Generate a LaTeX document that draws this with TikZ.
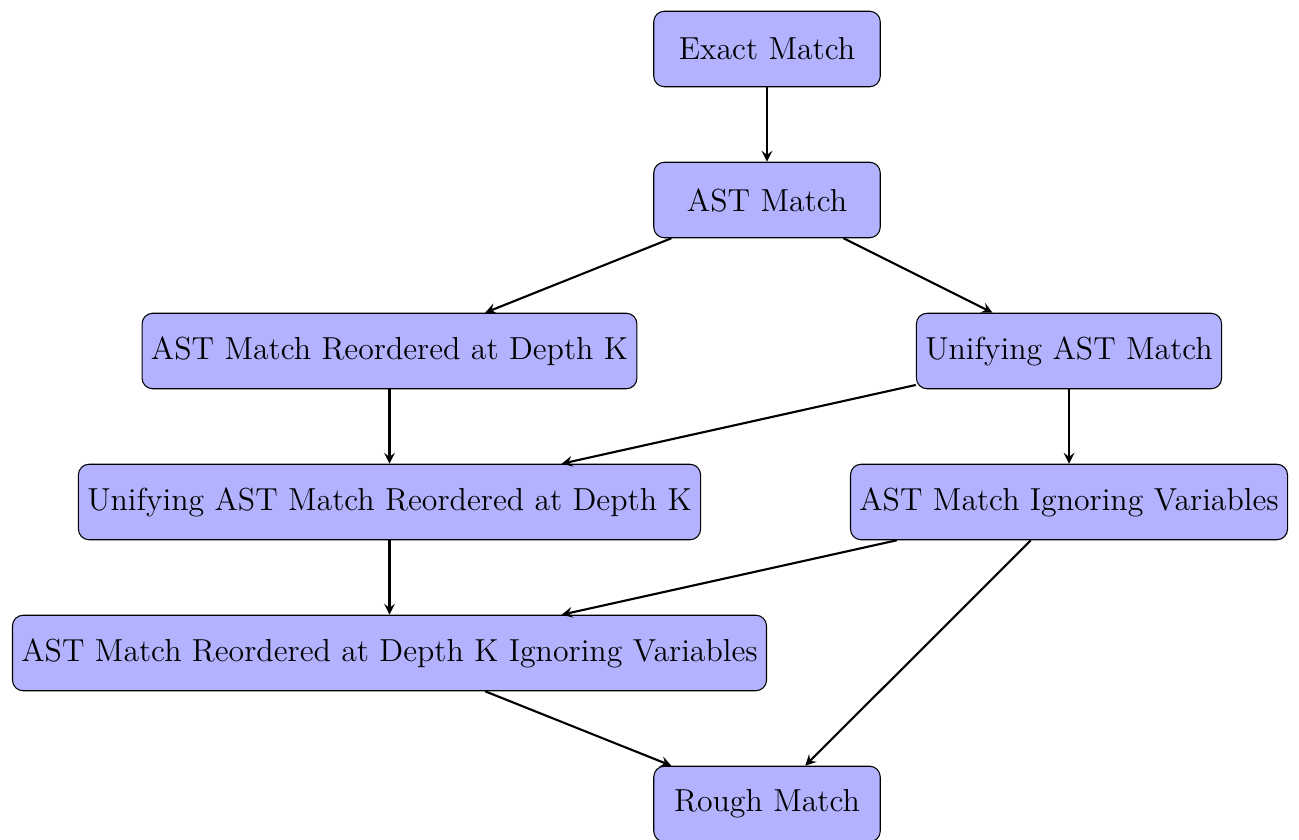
\documentclass[tikz,border=0pt]{standalone}
\begin{document}
\begin{tikzpicture}[
  box/.style={draw, rounded corners, fill=blue!30, minimum width=3cm, minimum height=1cm, font=\large},
  arr/.style={-stealth, thick}
]
\useasboundingbox (-10.159,0.649) rectangle (7.046,-10.464);
\node[box] (exact) at (0,0) {Exact Match};
\node[box] (ast) at (0,-2) {AST Match};
\node[box] (reord) at (-5,-4) {AST Match Reordered at Depth K};
\node[box] (unif) at (4,-4) {Unifying AST Match};
\node[box] (unifreord) at (-5,-6) {Unifying AST Match Reordered at Depth K};
\node[box] (ignvar) at (4,-6) {AST Match Ignoring Variables};
\node[box] (reordign) at (-5,-8) {AST Match Reordered at Depth K Ignoring Variables};
\node[box] (rough) at (0,-10) {Rough Match};
\draw[arr] (exact) -- (ast);
\draw[arr] (ast) -- (reord);
\draw[arr] (ast) -- (unif);
\draw[arr] (reord) -- (unifreord);
\draw[arr] (unif) -- (unifreord);
\draw[arr] (unif) -- (ignvar);
\draw[arr] (unifreord) -- (reordign);
\draw[arr] (ignvar) -- (reordign);
\draw[arr] (ignvar) -- (rough);
\draw[arr] (reordign) -- (rough);
\end{tikzpicture}
\end{document}
